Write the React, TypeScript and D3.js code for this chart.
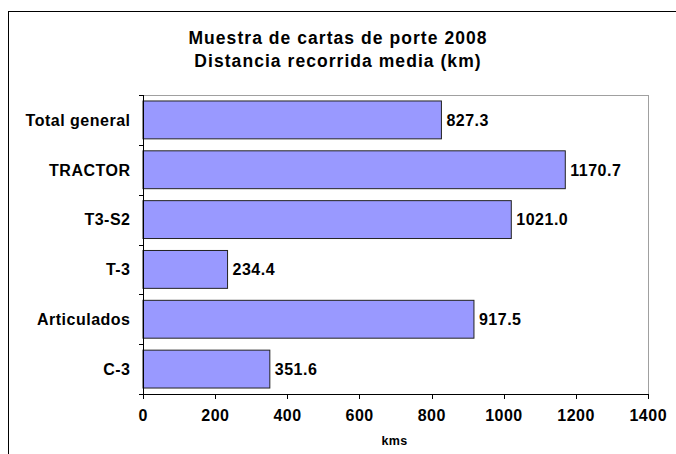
import React from "react";
import * as d3 from "d3";

const categories = ["Total general", "TRACTOR", "T3-S2", "T-3", "Articulados", "C-3"];
const values = [827.3, 1170.7, 1021.0, 234.4, 917.5, 351.6];
const xTicks = [0, 200, 400, 600, 800, 1000, 1200, 1400];
const titleLines = ["Muestra de cartas de porte 2008", "Distancia recorrida media (km)"];
const xAxisTitle = "kms";

export default function App() {
  const W = 676, H = 454;
  const left = 143, right = 648, top = 95, bottom = 394;
  const x = d3.scaleLinear().domain([0, 1400]).range([left, right]);
  const y = d3.scaleBand<string>().domain(categories).range([top, bottom]).paddingInner(0.24).paddingOuter(0.12);
  const yb = d3.scaleBand<string>().domain(categories).range([top, bottom]);
  const font = "'Liberation Sans', Arial, sans-serif";
  const ls = 0.5;
  const fs = 16;
  return (
    <svg width={W} height={H} style={{ position: "absolute", left: 0, top: 0, background: "#fff" }} fontFamily={font}>
      <rect x={8.5} y={11.5} width={700} height={500} fill="#fff" stroke="#000" strokeWidth={1} />
      {titleLines.map((t, i) => (
        <text key={i} x={338} y={43.5 + i * 23.5} textAnchor="middle" fontSize={17.5} fontWeight="bold" letterSpacing={1.05} fill="#000">{t}</text>
      ))}
      {/* plot area border */}
      <line x1={left} x2={right} y1={top + 0.5} y2={top + 0.5} stroke="#a0a0a0" />
      <line x1={right + 0.5} x2={right + 0.5} y1={top} y2={bottom} stroke="#a0a0a0" />
      {categories.map((c, i) => (
        <g key={c}>
          <rect x={x(0)} y={y(c)!} width={x(values[i]) - x(0)} height={y.bandwidth()} fill="#9999FF" stroke="#222" strokeWidth={1} />
          <text x={x(values[i]) + 5} y={y(c)! + y.bandwidth() / 2} dy="0.36em" fontSize={fs} fontWeight="bold" letterSpacing={ls}>{values[i].toFixed(1)}</text>
          <text x={130 + ls} y={yb(c)! + yb.bandwidth() / 2} dy="0.36em" textAnchor="end" fontSize={fs} fontWeight="bold" letterSpacing={ls}>{c}</text>
        </g>
      ))}
      {/* y axis */}
      <line x1={left + 0.5} x2={left + 0.5} y1={top} y2={bottom} stroke="#000" />
      {categories.map((c) => (
        <line key={c} x1={left - 4} x2={left} y1={Math.round(yb(c)!) + 0.5} y2={Math.round(yb(c)!) + 0.5} stroke="#000" />
      ))}
      <line x1={left - 4} x2={left} y1={bottom + 0.5} y2={bottom + 0.5} stroke="#000" />
      {/* x axis */}
      <line x1={left} x2={right + 1} y1={bottom + 0.5} y2={bottom + 0.5} stroke="#000" />
      {xTicks.map((t) => (
        <g key={t}>
          <line x1={Math.round(x(t)) + 0.5} x2={Math.round(x(t)) + 0.5} y1={bottom} y2={bottom + 5} stroke="#000" />
          <text x={x(t) + ls / 2} y={421} textAnchor="middle" fontSize={fs} fontWeight="bold" letterSpacing={ls}>{t}</text>
        </g>
      ))}
      <text x={394.5} y={445} textAnchor="middle" fontSize={12.5} fontWeight="bold" letterSpacing={0.3}>{xAxisTitle}</text>
    </svg>
  );
}
